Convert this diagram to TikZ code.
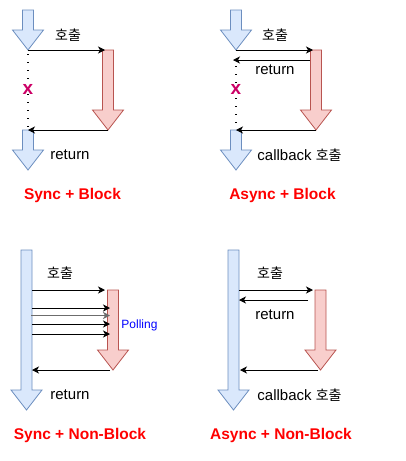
\documentclass[tikz,border=0pt]{standalone}
\usepackage{fontspec}
\setmainfont{Liberation Sans}
\newfontfamily\kr{Noto Sans CJK KR}
\usetikzlibrary{arrows.meta,positioning}

\definecolor{callerfill}{HTML}{DAE8FC}
\definecolor{callerline}{HTML}{6C8EBF}
\definecolor{calleefill}{HTML}{F8CECC}
\definecolor{calleeline}{HTML}{B85450}
\definecolor{titlered}{HTML}{FF0000}
\definecolor{marker}{HTML}{CC0066}
\definecolor{pollblue}{HTML}{0000FF}

% block arrow: style, x, top, head base, tip
\newcommand{\bigarrow}[5]{%
  \draw[#1] (#2-5.5,#3) -- (#2+5.5,#3) -- (#2+5.5,#4) -- (#2+15.5,#4)
    -- (#2,#5) -- (#2-15.5,#4) -- (#2-5.5,#4) -- cycle;}

\begin{document}
\begin{tikzpicture}[x=1pt,y=-1pt]
  \tikzstyle{caller}=[fill=callerfill, draw=callerline, line width=0.8pt]
  \tikzstyle{callee}=[fill=calleefill, draw=calleeline, line width=0.8pt]
  \tikzstyle{msg}=[draw, line width=0.8pt, -{Stealth[length=7pt,width=7pt,inset=2pt]}]
  \tikzstyle{waiting}=[line width=1.4pt, dash pattern=on 1.4pt off 6.6pt]
  \tikzstyle{cross}=[font=\fontsize{19}{20}\selectfont\bfseries, text=marker, inner sep=0pt, fill=white]
  \tikzstyle{lbl}=[font=\fontsize{15}{18}\selectfont, inner sep=0pt]
  \tikzstyle{heading}=[font=\fontsize{15.5}{18}\selectfont\bfseries, text=titlered, inner sep=0pt]
  \useasboundingbox (0,0) rectangle (405,461);

  % Panel 1 (Sync + Block)
  \bigarrow{caller}{28}{10}{30}{50}
  \bigarrow{callee}{108}{50}{110}{130}
  \bigarrow{caller}{28}{130}{150}{170}
  \coordinate (a1) at (28,50);
  \coordinate (b1) at (105,50);
  \coordinate (c1) at (108,130);
  \coordinate (d1) at (28,130);
  \draw[waiting] (28,54) -- (28,128);
  \node[cross] (x1) at (28,89) {x};
  \draw[msg] (a1) -- (b1);
  \draw[msg] (c1) -- (d1);
  \node[lbl, font=\kr\fontsize{14}{16}\selectfont] (call1) at (68,35) {호출};
  \node[lbl] (ret1) at (70,155) {return};
  \node[heading] (t1) at (72.5,195) {Sync + Block};

  % Panel 2 (Async + Block)
  \bigarrow{caller}{236}{10}{30}{50}
  \bigarrow{callee}{316}{50}{110}{130}
  \bigarrow{caller}{236}{130}{150}{170}
  \coordinate (a2) at (236,50);
  \coordinate (b2) at (313,50);
  \coordinate (e2) at (310,60);
  \coordinate (f2) at (233,60);
  \coordinate (c2) at (316,130);
  \coordinate (d2) at (236,130);
  \draw[waiting] (236,66) -- (236,128);
  \node[cross] (x2) at (236,89) {x};
  \draw[msg] (a2) -- (b2);
  \draw[msg] (e2) -- (f2);
  \draw[msg] (c2) -- (d2);
  \node[lbl, font=\kr\fontsize{14}{16}\selectfont] (call2) at (275,35) {호출};
  \node[lbl] (ret2) at (275,70) {return};
  \node[lbl] (cb2) at (299.5,155) {callback {\kr\fontsize{14}{16}\selectfont 호출}};
  \node[heading] (t2) at (282.5,195) {Async + Block};

  % Panel 3 (Sync + Non-Block)
  \bigarrow{caller}{26.5}{250}{390}{410}
  \bigarrow{callee}{113}{290}{350}{370}
  \coordinate (a3) at (32,290);
  \coordinate (b3) at (105,290);
  \coordinate (c3) at (110,370);
  \coordinate (d3) at (32,370);
  \draw[msg] (a3) -- (b3);
  \foreach \y in {308,324,334}
    \draw[msg] (32,\y) -- (110,\y);
  \draw[msg, draw=gray!85!black, line width=1.5pt] (31,315.5) -- (110,315.5);
  \draw[msg] (c3) -- (d3);
  \node[lbl, font=\kr\fontsize{14}{16}\selectfont] (call3) at (60,273) {호출};
  \node[lbl, font=\fontsize{12}{14}\selectfont, text=pollblue] (poll3) at (139.5,325) {Polling};
  \node[lbl] (ret3) at (70,395) {return};
  \node[heading] (t3) at (80,435) {Sync + Non-Block};

  % Panel 4 (Async + Non-Block)
  \bigarrow{caller}{233.5}{250}{390}{410}
  \bigarrow{callee}{320.5}{290}{350}{370}
  \coordinate (a4) at (239,290);
  \coordinate (b4) at (313,290);
  \coordinate (e4) at (308,300);
  \coordinate (f4) at (239,300);
  \coordinate (c4) at (318,370);
  \coordinate (d4) at (240,370);
  \draw[msg] (a4) -- (b4);
  \draw[msg] (e4) -- (f4);
  \draw[msg] (c4) -- (d4);
  \node[lbl, font=\kr\fontsize{14}{16}\selectfont] (call4) at (270,273) {호출};
  \node[lbl] (ret4) at (275,315) {return};
  \node[lbl] (cb4) at (299.5,395) {callback {\kr\fontsize{14}{16}\selectfont 호출}};
  \node[heading] (t4) at (281,435) {Async + Non-Block};
\end{tikzpicture}
\end{document}
